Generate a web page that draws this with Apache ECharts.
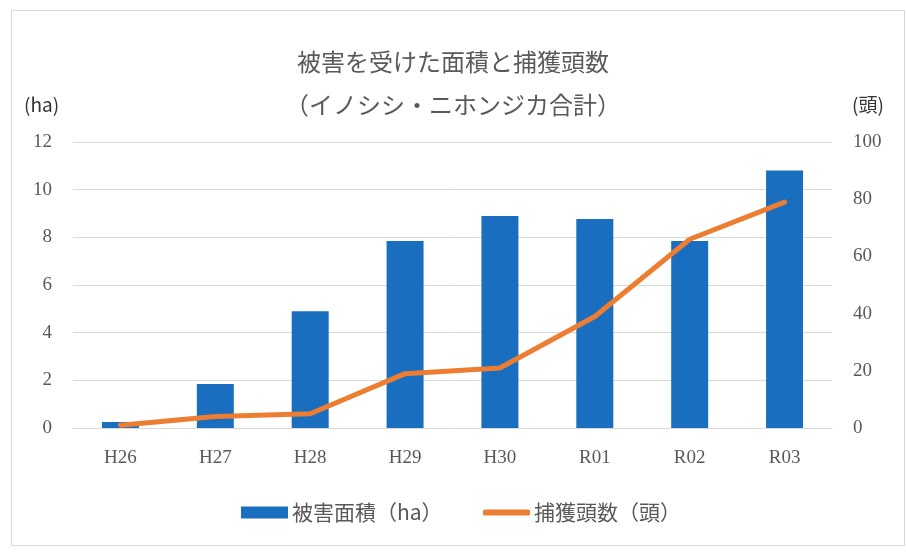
<!DOCTYPE html>
<html>
<head>
<meta charset="utf-8">
<title>被害を受けた面積と捕獲頭数</title>
<script src="https://cdn.jsdelivr.net/npm/echarts@6/dist/echarts.min.js"></script>
<style>
  html, body { margin: 0; padding: 0; background: #fff; }
  #chart { width: 906px; height: 552px; }
</style>
</head>
<body>
<div id="chart"></div>
<script>
// fiscal years (Heisei / Reiwa)
const years = ["H26", "H27", "H28", "H29", "H30", "R01", "R02", "R03"]
// damaged area (ha)
const damageArea = [0.25, 1.85, 4.9, 7.85, 8.9, 8.77, 7.85, 10.8]
// animals captured (head)
const captured = [1, 4, 5, 19, 21, 39, 66, 79]

const TEXT = "#595959"
const GRID = "#d9d9d9"
const SERIF = "'Liberation Serif', 'DejaVu Serif', serif"
const CJK = "'Noto Sans CJK JP', sans-serif"

const chart = echarts.init(document.getElementById("chart"))

chart.setOption({
  backgroundColor: "#fff",
  animation: false,
  title: {
    text: "被害を受けた面積と捕獲頭数\n（イノシシ・ニホンジカ合計）",
    left: "center",
    top: 35,
    textStyle: {
      color: TEXT,
      fontFamily: CJK,
      fontWeight: "normal",
      fontSize: 24,
      lineHeight: 43,
    },
  },
  graphic: [
    {
      type: "rect",
      shape: { x: 11.5, y: 10.5, width: 893, height: 535 },
      style: { fill: "none", stroke: GRID, lineWidth: 1 },
      silent: true,
    },
    {
      type: "text",
      left: 24,
      top: 95,
      style: { text: "(ha)", fill: "#333", font: "19px " + CJK },
    },
    {
      type: "text",
      left: 852,
      top: 95,
      style: { text: "(頭)", fill: "#333", font: "19px " + CJK },
    },
  ],
  legend: [
    {
      data: ["被害面積（ha）"],
      left: 236,
      top: 497,
      icon: "rect",
      itemWidth: 47,
      itemHeight: 12,
      itemGap: 4,
      textStyle: { color: TEXT, fontFamily: CJK, fontSize: 21, padding: [0, 0, 0, -1] },
    },
    {
      data: ["捕獲頭数（頭）"],
      left: 478,
      top: 497,
      icon: "roundRect",
      itemWidth: 47,
      itemHeight: 6,
      textStyle: { color: TEXT, fontFamily: CJK, fontSize: 21, padding: [0, 0, 0, -1] },
    },
  ],
  grid: { left: 73, right: 74, top: 142, bottom: 124 },
  xAxis: {
    type: "category",
    data: years,
    axisLine: { lineStyle: { color: GRID, width: 1 } },
    axisTick: { show: false },
    axisLabel: { color: TEXT, fontFamily: SERIF, fontSize: 19, margin: 21 },
  },
  yAxis: [
    {
      type: "value",
      min: 0,
      max: 12,
      interval: 2,
      axisLine: { show: false },
      axisTick: { show: false },
      axisLabel: { color: TEXT, fontFamily: SERIF, fontSize: 19, margin: 21 },
      splitLine: { lineStyle: { color: GRID, width: 1 } },
    },
    {
      type: "value",
      min: 0,
      max: 100,
      interval: 20,
      axisLine: { show: false },
      axisTick: { show: false },
      axisLabel: { color: TEXT, fontFamily: SERIF, fontSize: 19, margin: 21 },
      splitLine: { show: false },
    },
  ],
  series: [
    {
      name: "被害面積（ha）",
      type: "bar",
      data: damageArea,
      barWidth: 37,
      itemStyle: { color: "#1a6ec0" },
    },
    {
      name: "捕獲頭数（頭）",
      type: "line",
      yAxisIndex: 1,
      data: captured,
      symbol: "none",
      lineStyle: { color: "#ed7d31", width: 5, cap: "round", join: "round" },
      itemStyle: { color: "#ed7d31" },
    },
  ],
})
</script>
</body>
</html>
